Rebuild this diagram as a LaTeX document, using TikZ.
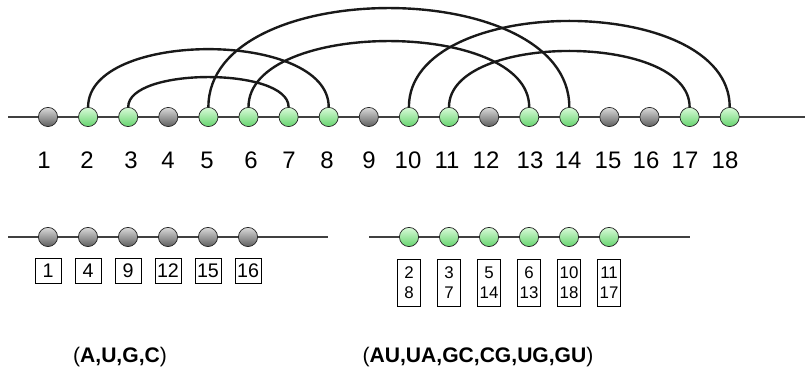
\documentclass[tikz,border=0pt]{standalone}
\usepackage{fontspec}
\setmainfont{Liberation Sans}
\usepackage{xcolor}
\usetikzlibrary{positioning}

\definecolor{beadgrayT}{HTML}{DADADA}
\definecolor{beadgrayB}{HTML}{5E5E5E}
\definecolor{beadgreenT}{HTML}{D8FAD8}
\definecolor{beadgreenB}{HTML}{66D46E}

\begin{document}
\begin{tikzpicture}[
  unpaired/.style={circle, draw=black!85, line width=0.5pt, minimum size=0.48cm,
                   inner sep=0pt, top color=beadgrayT, bottom color=beadgrayB},
  paired/.style={circle, draw=black!85, line width=0.5pt, minimum size=0.48cm,
                 inner sep=0pt, top color=beadgreenT, bottom color=beadgreenB},
  strand/.style={line width=1.4pt, black!75},
  bond/.style={line width=1.7pt, black!90},
  idx/.style={font=\fontsize{17}{17}\selectfont, inner sep=0pt},
  cellbox/.style={draw, line width=0.6pt, minimum width=0.65cm, minimum height=0.62cm,
                  inner sep=1pt, font=\fontsize{14}{14}\selectfont},
  pairbox/.style={draw, line width=0.6pt, minimum width=0.58cm, minimum height=1.175cm,
                  inner sep=1pt, align=center, font=\fontsize{12}{14}\selectfont},
  caption/.style={font=\fontsize{15}{15}\selectfont, inner sep=0pt}
]
\useasboundingbox (0,0) rectangle (20.125,-9.25);

% full chain
\draw[strand] (0.2,-2.925) coordinate (s0) -- (20.125,-2.925) coordinate (s1);
\foreach \i in {1,4,9,12,15,16}
  \node[unpaired] (b\i) at ({1.2+(\i-1)*1.0025},-2.925) {};
\foreach \i in {2,3,5,6,7,8,10,11,13,14,17,18}
  \node[paired] (b\i) at ({1.2+(\i-1)*1.0025},-2.925) {};

% base pairs
\foreach \a/\b/\k in {2/8/1.93, 3/7/1.0, 5/14/3.3, 6/13/2.2, 10/18/2.87, 11/17/1.87}
  \draw[bond] (b\a.north) .. controls +(0,\k) and +(0,\k) .. (b\b.north);

% position numbers
\foreach \i/\x in {1/44, 2/87, 3/131, 4/168, 5/207, 6/251, 7/289, 8/327, 9/369,
                   10/408, 11/447, 12/486, 13/530, 14/568, 15/608, 16/646, 17/685, 18/725}
  \node[idx] (n\i) at (\x/40,-4.0) {\i};

% unpaired part
\draw[strand] (0.2,-5.925) coordinate (u0) -- (8.2,-5.925) coordinate (u1);
\foreach \i/\j in {1/1, 2/4, 3/9, 4/12, 5/15, 6/16} {
  \node[unpaired] (g\i) at ({1.2+(\i-1)*1.0},-5.925) {};
  \node[cellbox, below=0.27cm of g\i] (c\i) {\j};
}

% paired part
\draw[strand] (9.225,-5.925) coordinate (p0) -- (17.25,-5.925) coordinate (p1);
\foreach \i/\j/\m in {1/2/8, 2/3/7, 3/5/14, 4/6/13, 5/10/18, 6/11/17} {
  \node[paired] (h\i) at ({10.225+(\i-1)*1.0},-5.925) {};
  \node[pairbox, below=0.3cm of h\i] (d\i) {\j\\\m};
}

\node[caption] (setA) at (3.0,-8.925) {(\textbf{A,U,G,C})};
\node[caption] (setB) at (11.95,-8.925) {(\textbf{AU,UA,GC,CG,UG,GU})};
\end{tikzpicture}
\end{document}
